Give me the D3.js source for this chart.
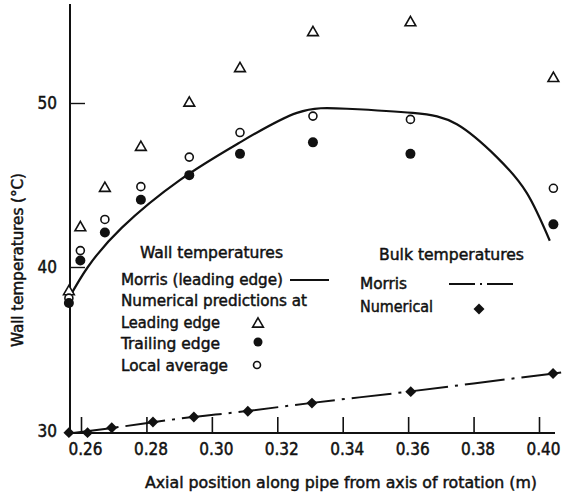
<!DOCTYPE html>
<html>
<head>
<meta charset="utf-8">
<script src="https://cdn.jsdelivr.net/npm/d3@7"></script>
<style>
	body { margin: 0; background: #fff; }
	text { font-family: "DejaVu Sans Condensed", "DejaVu Sans", sans-serif; fill: #111; stroke: #111; stroke-width: 0.45px; }
</style>
</head>
<body>
<svg id="vis_svg" width="566" height="497"></svg>
<script>
	// wall stations (axial position, m)
	var stations = [0.2563, 0.2598, 0.2673, 0.2783, 0.2931, 0.3086, 0.3309, 0.3607, 0.4044];
	var leadingEdge = [38.5, 42.4, 44.8, 47.3, 50.0, 52.1, 54.3, 54.9, 51.5];
	var trailingEdge = [37.8, 40.4, 42.1, 44.1, 45.6, 46.9, 47.6, 46.9, 42.6];
	var localAverage = [38.1, 41.0, 42.9, 44.9, 46.7, 48.2, 49.2, 49.0, 44.8];

	// Morris wall curve (leading edge)
	var morrisWallX = [0.2566, 0.2621, 0.2725, 0.2902, 0.3086, 0.3260, 0.3413, 0.3614, 0.3749, 0.3871, 0.3963, 0.4033];
	var morrisWallY = [38.2, 40.0, 42.4, 45.3, 47.6, 49.4, 49.65, 49.4, 48.7, 46.7, 44.5, 41.6];

	// bulk temperatures
	var bulkX = [0.2563, 0.2620, 0.2694, 0.2820, 0.2945, 0.3110, 0.3306, 0.3608, 0.4043];
	var bulkNumerical = [29.9, 29.9, 30.2, 30.55, 30.85, 31.2, 31.7, 32.4, 33.5];
	var morrisBulkX = [0.2563, 0.2700, 0.2900, 0.3100, 0.3300, 0.3600, 0.3800, 0.4083];
	var morrisBulkY = [29.85, 30.2, 30.75, 31.2, 31.7, 32.4, 32.9, 33.6];

	var xTicks = [0.26, 0.28, 0.30, 0.32, 0.34, 0.36, 0.38, 0.40];
	var yTicks = [30, 40, 50];

	var svg = d3.select("#vis_svg");

	var x = d3.scaleLinear().domain([0.26, 0.40]).range([81, 539]);
	var y = d3.scaleLinear().domain([30, 50]).range([431, 103]);

	var axisX0 = 70, axisY0 = 433;

	// x axis, ticks pointing up
	var xAxis = svg.append("g")
		.attr("transform", "translate(0," + axisY0 + ")")
		.call(d3.axisBottom(x).tickValues(xTicks).tickSize(-16).tickPadding(10)
			.tickFormat(d3.format(".2f")));
	xAxis.select(".domain").remove();
	xAxis.selectAll(".tick line").attr("stroke", "#111").attr("stroke-width", 1.6);
	xAxis.selectAll(".tick text").attr("dx", 4).style("font-size", "17px").attr("font-family", null);

	svg.append("line")
		.attr("x1", 66).attr("x2", 555)
		.attr("y1", axisY0).attr("y2", axisY0)
		.attr("stroke", "#111").attr("stroke-width", 2);

	// y axis, ticks pointing right
	var yAxis = svg.append("g")
		.attr("transform", "translate(" + axisX0 + ",0)")
		.call(d3.axisLeft(y).tickValues(yTicks).tickSize(-15).tickPadding(13));
	yAxis.select(".domain").remove();
	yAxis.selectAll(".tick line").attr("stroke", "#111").attr("stroke-width", 1.4)
		.style("display", function(d){ return d == 30 ? "none" : null; });
	yAxis.selectAll(".tick text").style("font-size", "17px").attr("font-family", null);

	svg.append("line")
		.attr("x1", axisX0).attr("x2", axisX0)
		.attr("y1", 4).attr("y2", 436)
		.attr("stroke", "#111").attr("stroke-width", 2);

	// axis titles
	svg.append("text")
		.attr("x", 341).attr("y", 488)
		.attr("text-anchor", "middle")
		.attr("textLength", 392).attr("lengthAdjust", "spacingAndGlyphs")
		.style("font-size", "16px")
		.text("Axial position along pipe from axis of rotation (m)");

	svg.append("text")
		.attr("transform", "translate(23,260) rotate(-90)")
		.attr("text-anchor", "middle")
		.attr("textLength", 174).attr("lengthAdjust", "spacingAndGlyphs")
		.style("font-size", "15px")
		.text("Wall temperatures (°C)");

	// Morris wall curve
	var wallLine = d3.line()
		.x(function(d){ return x(d[0]); })
		.y(function(d){ return y(d[1]); })
		.curve(d3.curveNatural);

	var bulkLine = d3.line()
		.x(function(d){ return x(d[0]); })
		.y(function(d){ return y(d[1]); })
		.curve(d3.curveMonotoneX);

	svg.append("path")
		.datum(d3.zip(morrisWallX, morrisWallY))
		.attr("d", wallLine)
		.attr("fill", "none").attr("stroke", "#111").attr("stroke-width", 2.2);

	// Morris bulk line
	svg.append("path")
		.datum(d3.zip(morrisBulkX, morrisBulkY))
		.attr("d", bulkLine)
		.attr("fill", "none").attr("stroke", "#111").attr("stroke-width", 2)
		.attr("stroke-dasharray", "40,7,3,7");

	var tri = d3.symbol().type(d3.symbolTriangle).size(50);
	var diamond = d3.symbol().type(d3.symbolSquare).size(60);

	svg.append("g").selectAll("path")
		.data(d3.zip(stations, leadingEdge))
		.enter().append("path")
		.attr("d", tri)
		.attr("transform", function(d){ return "translate(" + x(d[0]) + "," + y(d[1]) + ")"; })
		.attr("fill", "#fff").attr("stroke", "#111").attr("stroke-width", 1.6);

	svg.append("g").selectAll("circle")
		.data(d3.zip(stations, localAverage))
		.enter().append("circle")
		.attr("cx", function(d){ return x(d[0]); })
		.attr("cy", function(d){ return y(d[1]); })
		.attr("r", 4)
		.attr("fill", "#fff").attr("stroke", "#111").attr("stroke-width", 1.6);

	svg.append("g").selectAll("circle")
		.data(d3.zip(stations, trailingEdge))
		.enter().append("circle")
		.attr("cx", function(d){ return x(d[0]); })
		.attr("cy", function(d){ return y(d[1]); })
		.attr("r", 5)
		.attr("fill", "#111");

	svg.append("g").selectAll("path")
		.data(d3.zip(bulkX, bulkNumerical))
		.enter().append("path")
		.attr("d", diamond)
		.attr("transform", function(d){ return "translate(" + x(d[0]) + "," + y(d[1]) + ") rotate(45)"; })
		.attr("fill", "#111");

	// legend
	var leg = svg.append("g").style("font-size", "16px");

	function legText(tx, ty, len, s){
		leg.append("text").attr("x", tx).attr("y", ty)
			.attr("textLength", len).attr("lengthAdjust", "spacingAndGlyphs")
			.text(s);
	}

	legText(140, 258, 143, "Wall temperatures");
	legText(121, 285, 162, "Morris (leading edge)");
	legText(121, 306, 186, "Numerical predictions at");
	legText(121, 328, 99, "Leading edge");
	legText(121, 349, 99, "Trailing edge");
	legText(121, 371, 107, "Local average");
	legText(379, 260, 145, "Bulk temperatures");
	legText(360, 289, 47, "Morris");
	legText(360, 312, 73, "Numerical");

	leg.append("line").attr("x1", 290).attr("x2", 329).attr("y1", 280).attr("y2", 280)
		.attr("stroke", "#111").attr("stroke-width", 2);
	leg.append("line").attr("x1", 449).attr("x2", 513).attr("y1", 284).attr("y2", 284)
		.attr("stroke", "#111").attr("stroke-width", 2).attr("stroke-dasharray", "26,5,2,5");
	leg.append("path").attr("d", tri).attr("transform", "translate(258,324)")
		.attr("fill", "#fff").attr("stroke", "#111").attr("stroke-width", 1.6);
	leg.append("circle").attr("cx", 258).attr("cy", 342).attr("r", 4.5).attr("fill", "#111");
	leg.append("circle").attr("cx", 257).attr("cy", 365).attr("r", 3.5)
		.attr("fill", "#fff").attr("stroke", "#111").attr("stroke-width", 1.6);
	leg.append("path").attr("d", diamond).attr("transform", "translate(479,309) rotate(45)")
		.attr("fill", "#111");
</script>
</body>
</html>
